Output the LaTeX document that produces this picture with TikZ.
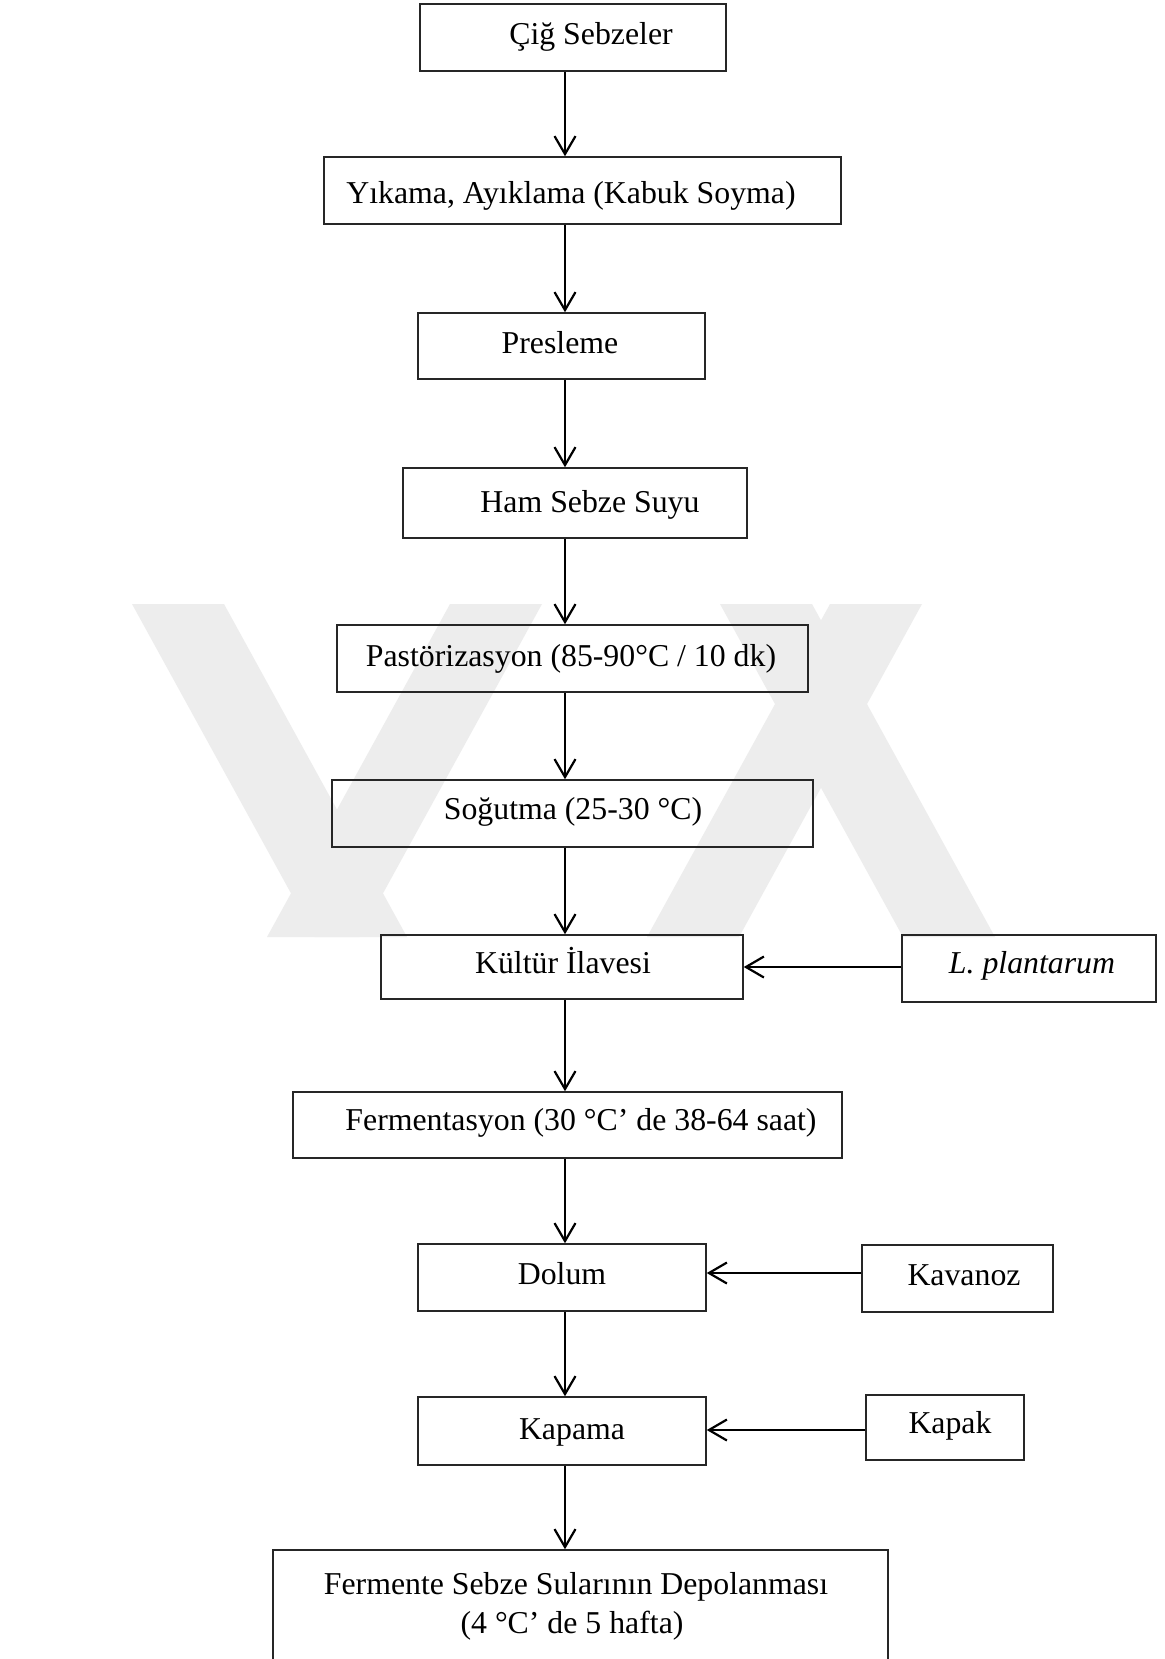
\documentclass[tikz,border=0pt]{standalone}
\usepackage{fontspec}
\setmainfont{Liberation Serif}
\usetikzlibrary{arrows.meta}
\tikzset{
  x=0.5pt, y=-0.5pt,
  box/.style={draw=black!85, line width=0.75pt, inner sep=0pt, fill=none},
  lbl/.style={inner sep=0pt, anchor=base, font=\fontsize{15.9}{20}\selectfont},
  arr/.style={line width=1.2pt, -{Straight Barb[length=9pt, width=10.5pt, line width=1.1pt]}},
  wm/.style={fill=black!7, draw=none}
}
\begin{document}
\begin{tikzpicture}
\clip (0,0) rectangle (1164,1659);
\fill[white] (0,0) rectangle (1164,1659);
% watermark
\fill[wm] (132,604) -- (224,604) -- (407,937) -- (315,937) -- cycle;
\fill[wm] (450,604) -- (542,604) -- (359,937) -- (267,937) -- cycle;
\fill[wm] (720,604) -- (812,604) -- (995,937) -- (903,937) -- cycle;
\fill[wm] (830,604) -- (922,604) -- (739,937) -- (647,937) -- cycle;
% axis for vertical arrows
\coordinate (ax) at (565,0);
% boxes
\node[box, minimum width=153pt,   minimum height=33.5pt] (b1)  at (573,37.5)   {};
\node[box, minimum width=258.5pt, minimum height=33.5pt] (b2)  at (582.5,190.5) {};
\node[box, minimum width=143.5pt, minimum height=33pt]   (b3)  at (561.5,346)  {};
\node[box, minimum width=172pt,   minimum height=35pt]   (b4)  at (575,503)    {};
\node[box, minimum width=235.5pt, minimum height=33.5pt] (b5)  at (572.5,658.5) {};
\node[box, minimum width=240.5pt, minimum height=33.5pt] (b6)  at (572.5,813.5) {};
\node[box, minimum width=181pt,   minimum height=32pt]   (b7)  at (562,967)    {};
\node[box, minimum width=127pt,   minimum height=33.5pt] (lp)  at (1029,968.5) {};
\node[box, minimum width=274.5pt, minimum height=33pt]   (b8)  at (567.5,1125) {};
\node[box, minimum width=144pt,   minimum height=33.5pt] (b9)  at (562,1277.5) {};
\node[box, minimum width=95.5pt,  minimum height=33.5pt] (kav) at (957.5,1278.5) {};
\node[box, minimum width=144pt,   minimum height=34pt]   (b10) at (562,1431)   {};
\node[box, minimum width=79pt,    minimum height=32.5pt] (kpk) at (945,1427.5) {};
\node[box, minimum width=307.5pt, minimum height=75pt]   (b11) at (580.5,1625) {};
% texts
\node[lbl] (t1)  at (591,45)     {Çiğ Sebzeler};
\node[lbl] (t2)  at (571,203)    {Yıkama, Ayıklama (Kabuk Soyma)};
\node[lbl] (t3)  at (560,353)    {Presleme};
\node[lbl] (t4)  at (590,512)    {Ham Sebze Suyu};
\node[lbl] (t5)  at (571,666)    {Pastörizasyon (85-90°C / 10 dk)};
\node[lbl] (t6)  at (573,819)    {Soğutma (25-30 °C)};
\node[lbl] (t7)  at (563,973)    {Kültür İlavesi};
\node[lbl] (tlp) at (1032,973)   {\itshape L. plantarum};
\node[lbl] (t8)  at (581,1130)   {Fermentasyon (30 °C’ de 38-64 saat)};
\node[lbl] (t9)  at (562,1284.5) {Dolum};
\node[lbl] (tkv) at (964,1285)   {Kavanoz};
\node[lbl] (t10) at (572,1439)   {Kapama};
\node[lbl] (tkp) at (950,1433)   {Kapak};
\node[lbl] (t11a) at (576,1594)  {Fermente Sebze Sularının Depolanması};
\node[lbl] (t11b) at (572,1633)  {(4 °C’ de 5 hafta)};
% vertical arrows
\draw[arr] (b1.south -| ax) -- (b2.north -| ax);
\draw[arr] (b2.south -| ax) -- (b3.north -| ax);
\draw[arr] (b3.south -| ax) -- (b4.north -| ax);
\draw[arr] (b4.south -| ax) -- (b5.north -| ax);
\draw[arr] (b5.south -| ax) -- (b6.north -| ax);
\draw[arr] (b6.south -| ax) -- (b7.north -| ax);
\draw[arr] (b7.south -| ax) -- (b8.north -| ax);
\draw[arr] (b8.south -| ax) -- (b9.north -| ax);
\draw[arr] (b9.south -| ax) -- (b10.north -| ax);
\draw[arr] (b10.south -| ax) -- (b11.north -| ax);
% side arrows
\coordinate (h1) at (0,967);
\coordinate (h2) at (0,1273);
\coordinate (h3) at (0,1430);
\draw[arr] (lp.west |- h1) -- (b7.east |- h1);
\draw[arr] (kav.west |- h2) -- (b9.east |- h2);
\draw[arr] (kpk.west |- h3) -- (b10.east |- h3);
\end{tikzpicture}
\end{document}
